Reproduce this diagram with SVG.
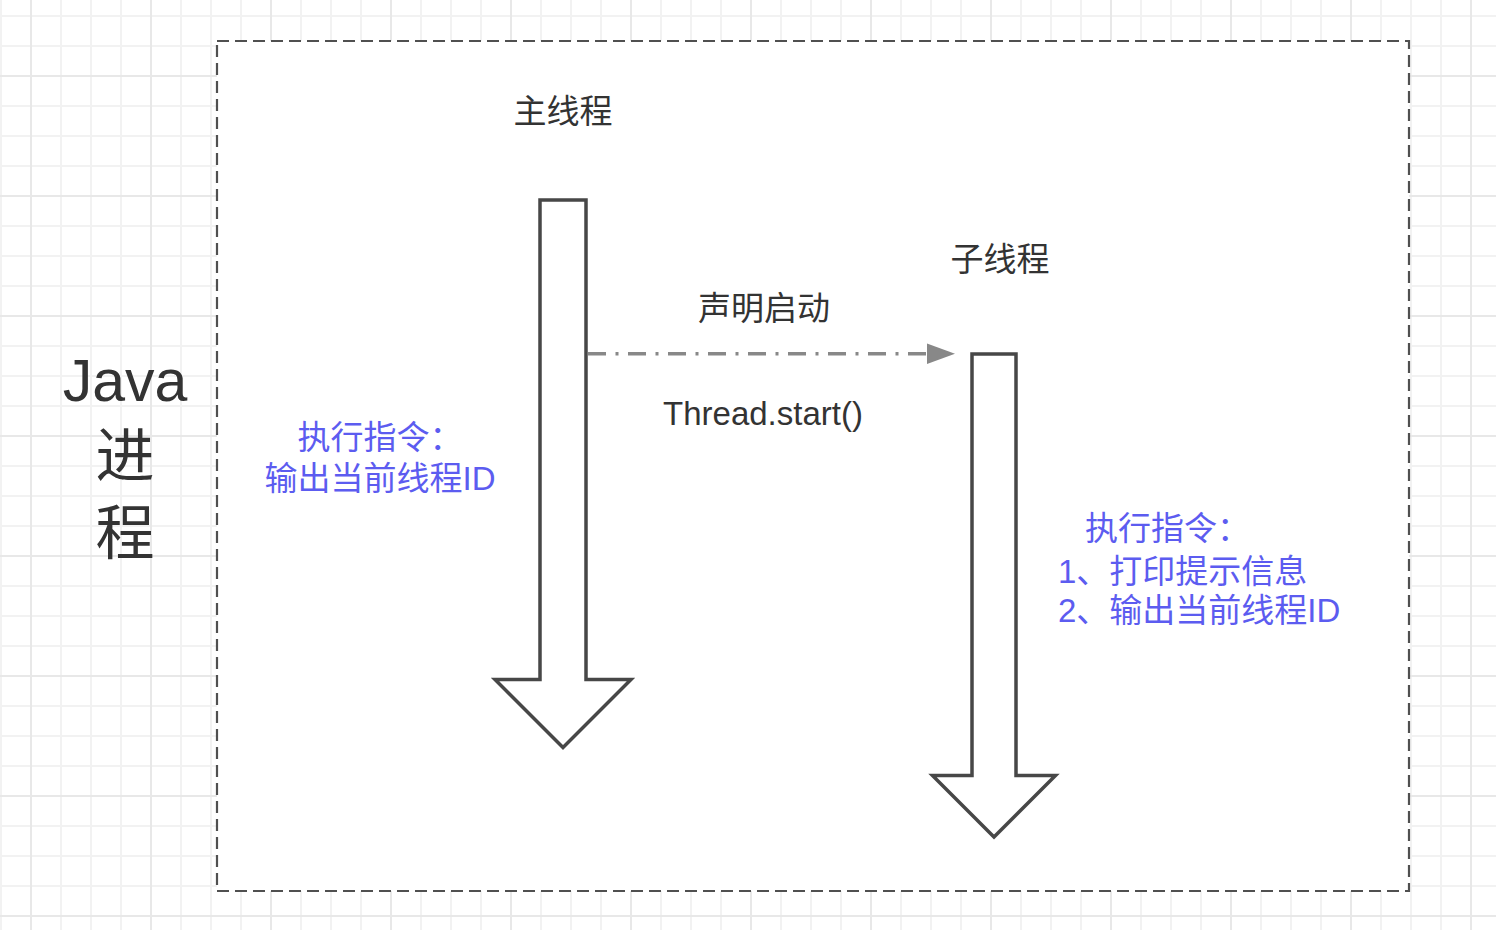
<svg xmlns="http://www.w3.org/2000/svg" width="1496" height="930" viewBox="0 0 1496 930">
  <defs>
    <pattern id="minorGrid" width="30" height="30" patternUnits="userSpaceOnUse" x="0" y="15">
      <rect x="0" y="0" width="2" height="30" fill="#f2f2f2"/>
      <rect x="0" y="0" width="30" height="2" fill="#f2f2f2"/>
    </pattern>
    <pattern id="majorGrid" width="120" height="120" patternUnits="userSpaceOnUse" x="30" y="75">
      <rect x="0" y="0" width="2" height="120" fill="#e8e8e8"/>
      <rect x="0" y="0" width="120" height="2" fill="#e8e8e8"/>
    </pattern>
    <style>
      .lbl { font-family: "Liberation Sans", "Noto Sans CJK SC", sans-serif; fill: #333333; }
      .blue { font-family: "Liberation Sans", "Noto Sans CJK SC", sans-serif; fill: #5c5cf0; font-size: 33px; }
      .thread { fill: #ffffff; stroke: #474747; stroke-width: 3.5; stroke-linejoin: miter; }
    </style>
  </defs>

  <rect x="0" y="0" width="1496" height="930" fill="#ffffff"/>
  <rect x="0" y="0" width="1496" height="930" fill="url(#minorGrid)"/>
  <rect x="0" y="0" width="1496" height="930" fill="url(#majorGrid)"/>

  <g id="java-process">
    <rect x="217" y="41" width="1192" height="850" fill="#ffffff" stroke="#505050" stroke-width="2.2" stroke-dasharray="12 6"/>
    <text class="lbl" x="125" y="401" font-size="59" text-anchor="middle">Java</text>
    <text class="lbl" x="125" y="477" font-size="59" text-anchor="middle">进</text>
    <text class="lbl" x="125" y="554" font-size="59" text-anchor="middle">程</text>
  </g>

  <g id="main-thread">
    <text class="lbl" x="563" y="122.5" font-size="33" text-anchor="middle">主线程</text>
    <polygon class="thread" points="540,200 586,200 586,679.5 631,679.5 563,747.5 495,679.5 540,679.5"/>
    <text class="blue" x="380" y="448.5" text-anchor="middle">执行指令：</text>
    <text class="blue" x="380" y="489.5" text-anchor="middle">输出当前线程ID</text>
  </g>

  <g id="sub-thread">
    <text class="lbl" x="1000" y="270.5" font-size="33" text-anchor="middle">子线程</text>
    <polygon class="thread" points="972,354 1016,354 1016,775.5 1055.5,775.5 994,837 932.5,775.5 972,775.5"/>
    <text class="blue" x="1085" y="540">执行指令：</text>
    <text class="blue" x="1058" y="582.5">1、打印提示信息</text>
    <text class="blue" x="1058" y="622">2、输出当前线程ID</text>
  </g>

  <g id="connectors">
    <line x1="588" y1="353.7" x2="930" y2="353.7" stroke="#888888" stroke-width="3.5" stroke-dasharray="18 9.5 3 9.5"/>
    <path d="M927,343.4 L955,353.7 L927,364 Z" fill="#888888"/>
    <text class="lbl" x="764" y="319.5" font-size="33" text-anchor="middle">声明启动</text>
    <text class="lbl" x="763" y="425" font-size="33" text-anchor="middle">Thread.start()</text>
  </g>
</svg>
